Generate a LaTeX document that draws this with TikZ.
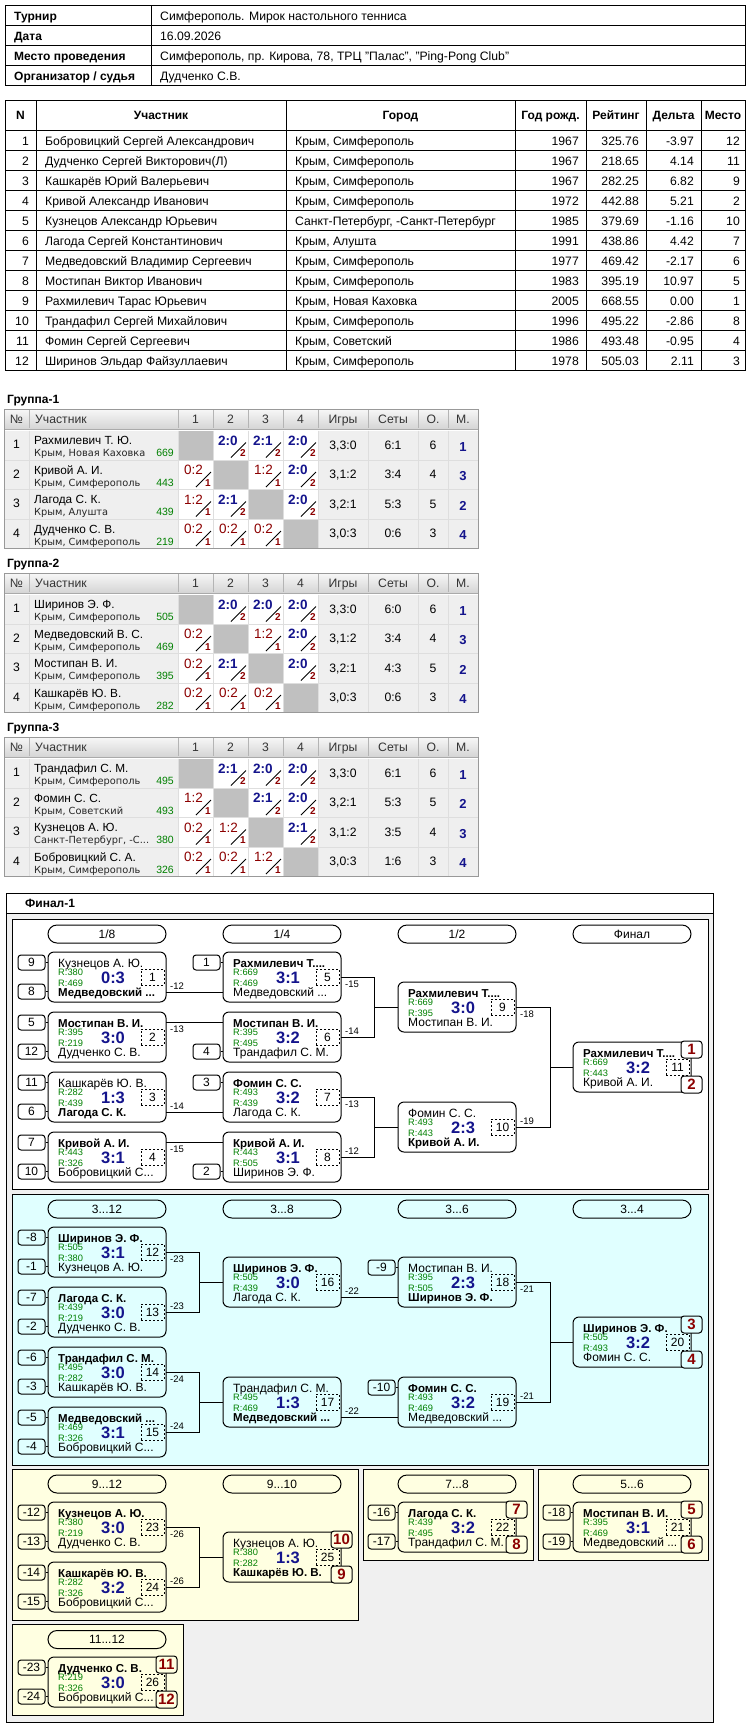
\documentclass[tikz,border=0pt]{standalone}
\usepackage{fontspec}
\setmainfont{Liberation Sans}
\newfontfamily\cityfont{DejaVu Sans}
\usetikzlibrary{calc}
\definecolor{sblue}{RGB}{20,20,140}
\definecolor{rgreen}{RGB}{0,128,0}
\definecolor{dred}{RGB}{140,0,0}
\definecolor{cyanbg}{RGB}{224,255,255}
\definecolor{yelbg}{RGB}{255,255,225}
\definecolor{outerbg}{RGB}{240,240,240}
\definecolor{cellbg}{RGB}{239,239,239}
\definecolor{diaggray}{RGB}{192,192,192}
\definecolor{gridc}{RGB}{222,222,222}
\definecolor{hdrline}{RGB}{170,170,170}
\definecolor{hsepc}{RGB}{180,180,180}
\newcommand\fpx[1]{\fontsize{#1}{#1}\selectfont}

\tikzset{
  xt/.style={inner sep=0, anchor=base west, font=\fpx{12.2}},
  xtb/.style={inner sep=0, anchor=base west, font=\fpx{12}\bfseries},
  xgh/.style={inner sep=0, anchor=base, font=\fpx{12.2}, text=black!80},
  xgn/.style={inner sep=0, anchor=base west, font=\fpx{11.8}},
  xgc/.style={inner sep=0, anchor=base west, font=\cityfont\fpx{9.8}, text=black!85},
  xgr/.style={inner sep=0, anchor=base east, font=\fpx{10.5}, text=rgreen},
  xgp/.style={inner sep=0, anchor=base, font=\fpx{13}\bfseries, text=sblue},
  xgw/.style={inner sep=0, anchor=base west, font=\fpx{13.5}\bfseries, text=sblue},
  xgl/.style={inner sep=0, anchor=base west, font=\fpx{13.5}, text=dred},
  xgd/.style={inner sep=0, anchor=base east, font=\fpx{10}\bfseries, text=dred},
  xln/.style={line width=1pt},
  xmbox/.style={draw, line width=1pt, rounded corners=6pt, minimum width=118pt, minimum height=50pt, inner sep=0},
  xnm/.style={inner sep=0, anchor=base west, font=\fpx{12}},
  xrr/.style={inner sep=0, anchor=base west, font=\fpx{9.3}, text=rgreen},
  xsc/.style={inner sep=0, anchor=base, font=\fpx{16.5}\bfseries, text=sblue},
  xdbox/.style={draw, line width=0.9pt, dash pattern=on 2pt off 2pt, minimum width=23pt, minimum height=16pt, inner sep=0, font=\fpx{12}},
  xsbox/.style={draw, line width=1pt, rounded corners=3pt, minimum width=27pt, minimum height=15pt, inner sep=0, font=\fpx{12}},
  xpbox/.style={draw, line width=1pt, rounded corners=3pt, minimum width=21pt, minimum height=17pt, inner sep=0, font=\fpx{15}\bfseries, text=dred},
  xcapsule/.style={draw, line width=1pt, rounded corners=9pt, minimum width=118pt, minimum height=18pt, inner sep=0, font=\fpx{12}},
  xlab/.style={inner sep=0, anchor=base west, font=\fpx{9.5}},
  xpanel/.style={draw, line width=1pt}
}
\newcommand\bnm[1]{{\fontsize{11.5}{11.5}\selectfont\bfseries #1}}

% ---------- big table row ----------
\newcommand\brow[7]{\pgfmathsetmacro\bty{125.5+20*#1}%
 \node[xt,anchor=base east] (bn#1) at (29,\bty) {#1};
 \node[xt] (bm#1) at (45,\bty) {#2};
 \node[xt] (bc#1) at (295,\bty) {#3};
 \node[xt,anchor=base east] (by#1) at (579,\bty) {#4};
 \node[xt,anchor=base east] (br#1) at (639,\bty) {#5};
 \node[xt,anchor=base east] (bd#1) at (694,\bty) {#6};
 \node[xt,anchor=base east] (bp#1) at (740,\bty) {#7};}

% ---------- group tables ----------
\newcommand\gtable[1]{\pgfmathsetmacro\gB{164*(#1-1)}%
 \node[xtb] (gt#1) at (7,403+\gB) {Группа-#1};
 \shade[top color=white!97!black, bottom color=white!84!black] (4,409+\gB) rectangle (478,428+\gB);
 \foreach \xx in {29,178,213,248,283,318,368,418,448} \draw[hsepc] (\xx,409+\gB) -- (\xx,428+\gB);
 \draw[hdrline, line width=1.6pt] (4,429.3+\gB) -- (478,429.3+\gB);
 \fill[cellbg] (4,430.5+\gB) rectangle (478,548.5+\gB);
 \node[xgh] (gh#1a) at (16.5,423+\gB) {№};
 \node[xgh,anchor=base west] (gh#1b) at (35,423+\gB) {Участник};
 \node[xgh] (gh#1c) at (195.5,423+\gB) {1};
 \node[xgh] (gh#1d) at (230.5,423+\gB) {2};
 \node[xgh] (gh#1e) at (265.5,423+\gB) {3};
 \node[xgh] (gh#1f) at (300.5,423+\gB) {4};
 \node[xgh] (gh#1g) at (343,423+\gB) {Игры};
 \node[xgh] (gh#1h) at (393,423+\gB) {Сеты};
 \node[xgh] (gh#1i) at (433,423+\gB) {О.};
 \node[xgh] (gh#1j) at (463,423+\gB) {М.};}
\newcommand\ggrid[1]{\pgfmathsetmacro\gB{164*(#1-1)}%
 \foreach \yy in {460,489.5,519} \draw[gridc] (4,\yy+\gB) -- (478,\yy+\gB);
 \foreach \xx in {29,178,213,248,283,318,368,418,448} \draw[gridc] (\xx,430.5+\gB) -- (\xx,548.5+\gB);
 \draw[black!40] (4,409+\gB) rectangle (478,548.5+\gB);}
\newcommand\grow[5]{\pgfmathsetmacro\gry{430.5+164*(#1-1)+29.5*(#2-1)}%
 \node[xt,anchor=base] (g#1r#2n) at (16.5,\gry+18) {#2};
 \node[xgn] (g#1r#2m) at (34,\gry+14) {#3};
 \node[xgc] (g#1r#2c) at (34,\gry+26) {#4};
 \node[xgr] (g#1r#2r) at (174,\gry+26) {#5};}
\newcommand\gres[6]{\pgfmathsetmacro\gry{430.5+164*(#1-1)+29.5*(#2-1)}%
 \node[xt,anchor=base] (g#1r#2g) at (343,\gry+18.5) {#3};
 \node[xt,anchor=base] (g#1r#2s) at (393,\gry+18.5) {#4};
 \node[xt,anchor=base] (g#1r#2o) at (433,\gry+18.5) {#5};
 \node[xgp] (g#1r#2p) at (463,\gry+20.5) {#6};}
\newcommand\gcells[6]{\pgfmathsetmacro\gcy{430.5+164*(#1-1)+29.5*(#2-1)}%
 \def\gcx{178}\def\gcn{g#1r#2x1}#3%
 \def\gcx{213}\def\gcn{g#1r#2x2}#4%
 \def\gcx{248}\def\gcn{g#1r#2x3}#5%
 \def\gcx{283}\def\gcn{g#1r#2x4}#6}
\newcommand\gX{\fill[diaggray] (\gcx,\gcy) rectangle ++(35,29.5);}
\newcommand\gW[1]{\fill[white] (\gcx,\gcy) rectangle ++(35,29.5);
 \node[xgw] (\gcn) at (\gcx+5,\gcy+14.5) {#1};
 \draw[line width=0.8pt] (\gcx+18,\gcy+27) -- (\gcx+33,\gcy+12);
 \node[xgd] (\gcn-d) at (\gcx+33,\gcy+26.2) {2};}
\newcommand\gL[1]{\fill[white] (\gcx,\gcy) rectangle ++(35,29.5);
 \node[xgl] (\gcn) at (\gcx+6,\gcy+14.5) {#1};
 \draw[line width=0.8pt] (\gcx+18,\gcy+27) -- (\gcx+33,\gcy+12);
 \node[xgd] (\gcn-d) at (\gcx+33,\gcy+26.2) {1};}

% ---------- bracket ----------
\newcommand\mtch[9]{%
 \node[xmbox] (#1) at (#2+59,#3+25) {};
 \node[xnm] (#1-a) at (#2+10,#3+15) {#4};
 \node[xrr] (#1-q1) at (#2+10,#3+23.7) {R:#5};
 \node[xrr] (#1-q2) at (#2+10,#3+34.5) {R:#6};
 \node[xsc] (#1-s) at (#2+65,#3+31.3) {#7};
 \node[xnm] (#1-b) at (#2+10,#3+44.7) {#8};
 \node[xdbox] (#1-no) at (#2+104.5,#3+25) {#9};
 \coordinate (#1-rt) at (#2+118,#3+10);
 \coordinate (#1-rm) at (#2+118,#3+25);
 \coordinate (#1-rb) at (#2+118,#3+40);
 \coordinate (#1-lt) at (#2,#3+10);
 \coordinate (#1-lm) at (#2,#3+25);
 \coordinate (#1-lb) at (#2,#3+40);}
\newcommand\seedT[5]{\node[xsbox] (#1) at (#3-16.5,#4+10.5) {#5};
 \draw[xln] (#1.east) -- (#2.west |- #1.east);}
\newcommand\seedB[5]{\node[xsbox] (#1) at (#3-16.5,#4+39.5) {#5};
 \draw[xln] (#1.east) -- (#2.west |- #1.east);}
\newcommand\placeT[5]{\node[xpbox, fill=#5] (#1) at (#2+0.5,#3+7.5) {#4};}
\newcommand\placeB[5]{\node[xpbox, fill=#5] (#1) at (#2+0.5,#3+42.5) {#4};}
\newcommand\labA[4]{\node[xlab] (#1) at (#2,#3-2.7) {#4};}
\newcommand\labB[4]{\node[xlab] (#1) at (#2,#3+10.5) {#4};}

\begin{document}
\begin{tikzpicture}[x=1pt,y=-1pt]
\useasboundingbox (0,0) rectangle (750,1727);
\fill[white] (0,0) rectangle (750,1727);

% ===== info table =====
\draw[line width=1pt] (5,5) rectangle (745,85);
\foreach \yy in {25,45,65} \draw[line width=1pt] (5,\yy) -- (745,\yy);
\draw[line width=1pt] (151,5) -- (151,85);
\node[xtb] (i1) at (14,20) {Турнир};
\node[xt] (v1) at (160,20) {Симферополь. Мирок настольного тенниса};
\node[xtb] (i2) at (14,40) {Дата};
\node[xt] (v2) at (160,40) {16.09.2026};
\node[xtb] (i3) at (14,60) {Место проведения};
\node[xt] (v3) at (160,60) {Симферополь, пр. Кирова, 78, ТРЦ "Палас", "Ping-Pong Club"};
\node[xtb] (i4) at (14,80) {Организатор / судья};
\node[xt] (v4) at (160,80) {Дудченко С.В.};

% ===== participants table =====
\draw[line width=1pt] (5,100) rectangle (745,370);
\foreach \yy in {130,150,...,350} \draw[line width=1pt] (5,\yy) -- (745,\yy);
\foreach \xx in {36,286,515,586,646,701} \draw[line width=1pt] (\xx,100) -- (\xx,370);
\node[xtb,anchor=base] (h1) at (20.5,119.5) {N};
\node[xtb,anchor=base] (h2) at (161,119.5) {Участник};
\node[xtb,anchor=base] (h3) at (400.5,119.5) {Город};
\node[xtb,anchor=base] (h4) at (550.5,119.5) {Год рожд.};
\node[xtb,anchor=base] (h5) at (616,119.5) {Рейтинг};
\node[xtb,anchor=base] (h6) at (673.5,119.5) {Дельта};
\node[xtb,anchor=base] (h7) at (723,119.5) {Место};
\brow{1}{Бобровицкий Сергей Александрович}{Крым, Симферополь}{1967}{325.76}{-3.97}{12}
\brow{2}{Дудченко Сергей Викторович(Л)}{Крым, Симферополь}{1967}{218.65}{4.14}{11}
\brow{3}{Кашкарёв Юрий Валерьевич}{Крым, Симферополь}{1967}{282.25}{6.82}{9}
\brow{4}{Кривой Александр Иванович}{Крым, Симферополь}{1972}{442.88}{5.21}{2}
\brow{5}{Кузнецов Александр Юрьевич}{Санкт-Петербург, -Санкт-Петербург}{1985}{379.69}{-1.16}{10}
\brow{6}{Лагода Сергей Константинович}{Крым, Алушта}{1991}{438.86}{4.42}{7}
\brow{7}{Медведовский Владимир Сергеевич}{Крым, Симферополь}{1977}{469.42}{-2.17}{6}
\brow{8}{Мостипан Виктор Иванович}{Крым, Симферополь}{1983}{395.19}{10.97}{5}
\brow{9}{Рахмилевич Тарас Юрьевич}{Крым, Новая Каховка}{2005}{668.55}{0.00}{1}
\brow{10}{Трандафил Сергей Михайлович}{Крым, Симферополь}{1996}{495.22}{-2.86}{8}
\brow{11}{Фомин Сергей Сергеевич}{Крым, Советский}{1986}{493.48}{-0.95}{4}
\brow{12}{Ширинов Эльдар Файзуллаевич}{Крым, Симферополь}{1978}{505.03}{2.11}{3}

% ===== group 1 =====
\gtable{1}
\gcells{1}{1}{\gX}{\gW{2:0}}{\gW{2:1}}{\gW{2:0}}
\gcells{1}{2}{\gL{0:2}}{\gX}{\gL{1:2}}{\gW{2:0}}
\gcells{1}{3}{\gL{1:2}}{\gW{2:1}}{\gX}{\gW{2:0}}
\gcells{1}{4}{\gL{0:2}}{\gL{0:2}}{\gL{0:2}}{\gX}
\grow{1}{1}{Рахмилевич Т. Ю.}{Крым, Новая Каховка}{669}
\grow{1}{2}{Кривой А. И.}{Крым, Симферополь}{443}
\grow{1}{3}{Лагода С. К.}{Крым, Алушта}{439}
\grow{1}{4}{Дудченко С. В.}{Крым, Симферополь}{219}
\gres{1}{1}{3,3:0}{6:1}{6}{1}
\gres{1}{2}{3,1:2}{3:4}{4}{3}
\gres{1}{3}{3,2:1}{5:3}{5}{2}
\gres{1}{4}{3,0:3}{0:6}{3}{4}
\ggrid{1}

% ===== group 2 =====
\gtable{2}
\gcells{2}{1}{\gX}{\gW{2:0}}{\gW{2:0}}{\gW{2:0}}
\gcells{2}{2}{\gL{0:2}}{\gX}{\gL{1:2}}{\gW{2:0}}
\gcells{2}{3}{\gL{0:2}}{\gW{2:1}}{\gX}{\gW{2:0}}
\gcells{2}{4}{\gL{0:2}}{\gL{0:2}}{\gL{0:2}}{\gX}
\grow{2}{1}{Ширинов Э. Ф.}{Крым, Симферополь}{505}
\grow{2}{2}{Медведовский В. С.}{Крым, Симферополь}{469}
\grow{2}{3}{Мостипан В. И.}{Крым, Симферополь}{395}
\grow{2}{4}{Кашкарёв Ю. В.}{Крым, Симферополь}{282}
\gres{2}{1}{3,3:0}{6:0}{6}{1}
\gres{2}{2}{3,1:2}{3:4}{4}{3}
\gres{2}{3}{3,2:1}{4:3}{5}{2}
\gres{2}{4}{3,0:3}{0:6}{3}{4}
\ggrid{2}

% ===== group 3 =====
\gtable{3}
\gcells{3}{1}{\gX}{\gW{2:1}}{\gW{2:0}}{\gW{2:0}}
\gcells{3}{2}{\gL{1:2}}{\gX}{\gW{2:1}}{\gW{2:0}}
\gcells{3}{3}{\gL{0:2}}{\gL{1:2}}{\gX}{\gW{2:1}}
\gcells{3}{4}{\gL{0:2}}{\gL{0:2}}{\gL{1:2}}{\gX}
\grow{3}{1}{Трандафил С. М.}{Крым, Симферополь}{495}
\grow{3}{2}{Фомин С. С.}{Крым, Советский}{493}
\grow{3}{3}{Кузнецов А. Ю.}{Санкт-Петербург, -С...}{380}
\grow{3}{4}{Бобровицкий С. А.}{Крым, Симферополь}{326}
\gres{3}{1}{3,3:0}{6:1}{6}{1}
\gres{3}{2}{3,2:1}{5:3}{5}{2}
\gres{3}{3}{3,1:2}{3:5}{4}{3}
\gres{3}{4}{3,0:3}{1:6}{3}{4}
\ggrid{3}

% ===== final frame =====
\fill[outerbg] (6,913) rectangle (713,1722);
\draw[line width=1pt] (6,893) rectangle (713,1722);
\draw[line width=1pt] (6,913) -- (713,913);
\node[xtb] (fin) at (25,907.5) {Финал-1};

\draw[xpanel, fill=white] (12,919) rectangle (708,1189);
\draw[xpanel, fill=cyanbg] (12,1194) rectangle (708,1465);
\draw[xpanel, fill=yelbg] (12,1469) rectangle (358,1620);
\draw[xpanel, fill=yelbg] (363,1469) rectangle (533,1560);
\draw[xpanel, fill=yelbg] (538,1469) rectangle (708,1560);
\draw[xpanel, fill=yelbg] (12,1624) rectangle (183,1715);

% capsules
\node[xcapsule] (c1) at (107,934) {1/8};
\node[xcapsule] (c2) at (282,934) {1/4};
\node[xcapsule] (c3) at (457,934) {1/2};
\node[xcapsule] (c4) at (632,934) {Финал};
\node[xcapsule] (c5) at (107,1209) {3...12};
\node[xcapsule] (c6) at (282,1209) {3...8};
\node[xcapsule] (c7) at (457,1209) {3...6};
\node[xcapsule] (c8) at (632,1209) {3...4};
\node[xcapsule] (c9) at (107,1484) {9...12};
\node[xcapsule] (c10) at (282,1484) {9...10};
\node[xcapsule] (c11) at (457,1484) {7...8};
\node[xcapsule] (c12) at (632,1484) {5...6};
\node[xcapsule] (c13) at (107,1639.5) {11...12};

% matches panel 1
\mtch{m1}{48}{952}{Кузнецов А. Ю.}{380}{469}{0:3}{\bnm{Медведовский ...}}{1}
\mtch{m2}{48}{1012}{\bnm{Мостипан В. И.}}{395}{219}{3:0}{Дудченко С. В.}{2}
\mtch{m3}{48}{1072}{Кашкарёв Ю. В.}{282}{439}{1:3}{\bnm{Лагода С. К.}}{3}
\mtch{m4}{48}{1132}{\bnm{Кривой А. И.}}{443}{326}{3:1}{Бобровицкий С...}{4}
\mtch{m5}{223}{952}{\bnm{Рахмилевич Т....}}{669}{469}{3:1}{Медведовский ...}{5}
\mtch{m6}{223}{1012}{\bnm{Мостипан В. И.}}{395}{495}{3:2}{Трандафил С. М.}{6}
\mtch{m7}{223}{1072}{\bnm{Фомин С. С.}}{493}{439}{3:2}{Лагода С. К.}{7}
\mtch{m8}{223}{1132}{\bnm{Кривой А. И.}}{443}{505}{3:1}{Ширинов Э. Ф.}{8}
\mtch{m9}{398}{982}{\bnm{Рахмилевич Т....}}{669}{395}{3:0}{Мостипан В. И.}{9}
\mtch{m10}{398}{1102}{Фомин С. С.}{493}{443}{2:3}{\bnm{Кривой А. И.}}{10}
\mtch{m11}{573}{1042}{\bnm{Рахмилевич Т....}}{669}{443}{3:2}{Кривой А. И.}{11}
% panel 2
\mtch{m12}{48}{1227}{\bnm{Ширинов Э. Ф.}}{505}{380}{3:1}{Кузнецов А. Ю.}{12}
\mtch{m13}{48}{1287}{\bnm{Лагода С. К.}}{439}{219}{3:0}{Дудченко С. В.}{13}
\mtch{m14}{48}{1347}{\bnm{Трандафил С. М.}}{495}{282}{3:0}{Кашкарёв Ю. В.}{14}
\mtch{m15}{48}{1407}{\bnm{Медведовский ...}}{469}{326}{3:1}{Бобровицкий С...}{15}
\mtch{m16}{223}{1257}{\bnm{Ширинов Э. Ф.}}{505}{439}{3:0}{Лагода С. К.}{16}
\mtch{m17}{223}{1377}{Трандафил С. М.}{495}{469}{1:3}{\bnm{Медведовский ...}}{17}
\mtch{m18}{398}{1257}{Мостипан В. И.}{395}{505}{2:3}{\bnm{Ширинов Э. Ф.}}{18}
\mtch{m19}{398}{1377}{\bnm{Фомин С. С.}}{493}{469}{3:2}{Медведовский ...}{19}
\mtch{m20}{573}{1317}{\bnm{Ширинов Э. Ф.}}{505}{493}{3:2}{Фомин С. С.}{20}
% lower panels
\mtch{m23}{48}{1502}{\bnm{Кузнецов А. Ю.}}{380}{219}{3:0}{Дудченко С. В.}{23}
\mtch{m24}{48}{1562}{\bnm{Кашкарёв Ю. В.}}{282}{326}{3:2}{Бобровицкий С...}{24}
\mtch{m25}{223}{1532}{Кузнецов А. Ю.}{380}{282}{1:3}{\bnm{Кашкарёв Ю. В.}}{25}
\mtch{m22}{398}{1502}{\bnm{Лагода С. К.}}{439}{495}{3:2}{Трандафил С. М.}{22}
\mtch{m21}{573}{1502}{\bnm{Мостипан В. И.}}{395}{469}{3:1}{Медведовский ...}{21}
\mtch{m26}{48}{1657}{\bnm{Дудченко С. В.}}{219}{326}{3:0}{Бобровицкий С...}{26}

% seeds
\seedT{s1}{m1}{48}{952}{9} \seedB{s2}{m1}{48}{952}{8}
\seedT{s3}{m2}{48}{1012}{5} \seedB{s4}{m2}{48}{1012}{12}
\seedT{s5}{m3}{48}{1072}{11} \seedB{s6}{m3}{48}{1072}{6}
\seedT{s7}{m4}{48}{1132}{7} \seedB{s8}{m4}{48}{1132}{10}
\seedT{s9}{m5}{223}{952}{1}
\seedB{s10}{m6}{223}{1012}{4}
\seedT{s11}{m7}{223}{1072}{3}
\seedB{s12}{m8}{223}{1132}{2}
\seedT{s13}{m12}{48}{1227}{-8} \seedB{s14}{m12}{48}{1227}{-1}
\seedT{s15}{m13}{48}{1287}{-7} \seedB{s16}{m13}{48}{1287}{-2}
\seedT{s17}{m14}{48}{1347}{-6} \seedB{s18}{m14}{48}{1347}{-3}
\seedT{s19}{m15}{48}{1407}{-5} \seedB{s20}{m15}{48}{1407}{-4}
\seedT{s21}{m18}{398}{1257}{-9}
\seedT{s22}{m19}{398}{1377}{-10}
\seedT{s23}{m23}{48}{1502}{-12} \seedB{s24}{m23}{48}{1502}{-13}
\seedT{s25}{m24}{48}{1562}{-14} \seedB{s26}{m24}{48}{1562}{-15}
\seedT{s27}{m22}{398}{1502}{-16} \seedB{s28}{m22}{398}{1502}{-17}
\seedT{s29}{m21}{573}{1502}{-18} \seedB{s30}{m21}{573}{1502}{-19}
\seedT{s31}{m26}{48}{1657}{-23} \seedB{s32}{m26}{48}{1657}{-24}

% connectors
\draw[xln] (m1-rb) -- (m5-lb);
\draw[xln] (m2-rt) -- (m6-lt);
\draw[xln] (m3-rb) -- (m7-lb);
\draw[xln] (m4-rt) -- (m8-lt);
\draw[xln] (m5-rm) -- ++(33,0) |- (m6-rm);
\draw[xln] (m9-lm) -- ++(-24,0);
\draw[xln] (m7-rm) -- ++(33,0) |- (m8-rm);
\draw[xln] (m10-lm) -- ++(-24,0);
\draw[xln] (m9-rm) -- ++(34,0) |- (m10-rm);
\draw[xln] (m11-lm) -- ++(-23,0);
\draw[xln] (m12-rm) -- ++(33,0) |- (m13-rm);
\draw[xln] (m16-lm) -- ++(-24,0);
\draw[xln] (m14-rm) -- ++(33,0) |- (m15-rm);
\draw[xln] (m17-lm) -- ++(-24,0);
\draw[xln] (m16-rb) -- (m18-lb);
\draw[xln] (m17-rb) -- (m19-lb);
\draw[xln] (m18-rm) -- ++(34,0) |- (m19-rm);
\draw[xln] (m20-lm) -- ++(-23,0);
\draw[xln] (m23-rm) -- ++(33,0) |- (m24-rm);
\draw[xln] (m25-lm) -- ++(-24,0);

% labels
\labA{l1}{170}{992}{-12}
\labB{l2}{170}{1022}{-13}
\labA{l3}{170}{1112}{-14}
\labB{l4}{170}{1142}{-15}
\labB{l5}{345}{977}{-15}
\labA{l6}{345}{1037}{-14}
\labB{l7}{345}{1097}{-13}
\labA{l8}{345}{1157}{-12}
\labB{l9}{520}{1007}{-18}
\labA{l10}{520}{1127}{-19}
\labB{l11}{170}{1252}{-23}
\labA{l12}{170}{1312}{-23}
\labB{l13}{170}{1372}{-24}
\labA{l14}{170}{1432}{-24}
\labA{l15}{345}{1297}{-22}
\labA{l16}{345}{1417}{-22}
\labB{l17}{520}{1282}{-21}
\labA{l18}{520}{1402}{-21}
\labB{l19}{170}{1527}{-26}
\labA{l20}{170}{1587}{-26}

% places
\placeT{p1}{691}{1042}{1}{white} \placeB{p2}{691}{1042}{2}{white}
\placeT{p3}{691}{1317}{3}{cyanbg} \placeB{p4}{691}{1317}{4}{cyanbg}
\placeT{p10}{341}{1532}{10}{yelbg} \placeB{p9}{341}{1532}{9}{yelbg}
\placeT{p7}{516}{1502}{7}{yelbg} \placeB{p8}{516}{1502}{8}{yelbg}
\placeT{p5}{691}{1502}{5}{yelbg} \placeB{p6}{691}{1502}{6}{yelbg}
\placeT{p11}{166}{1657}{11}{yelbg} \placeB{p12}{166}{1657}{12}{yelbg}
\end{tikzpicture}
\end{document}
